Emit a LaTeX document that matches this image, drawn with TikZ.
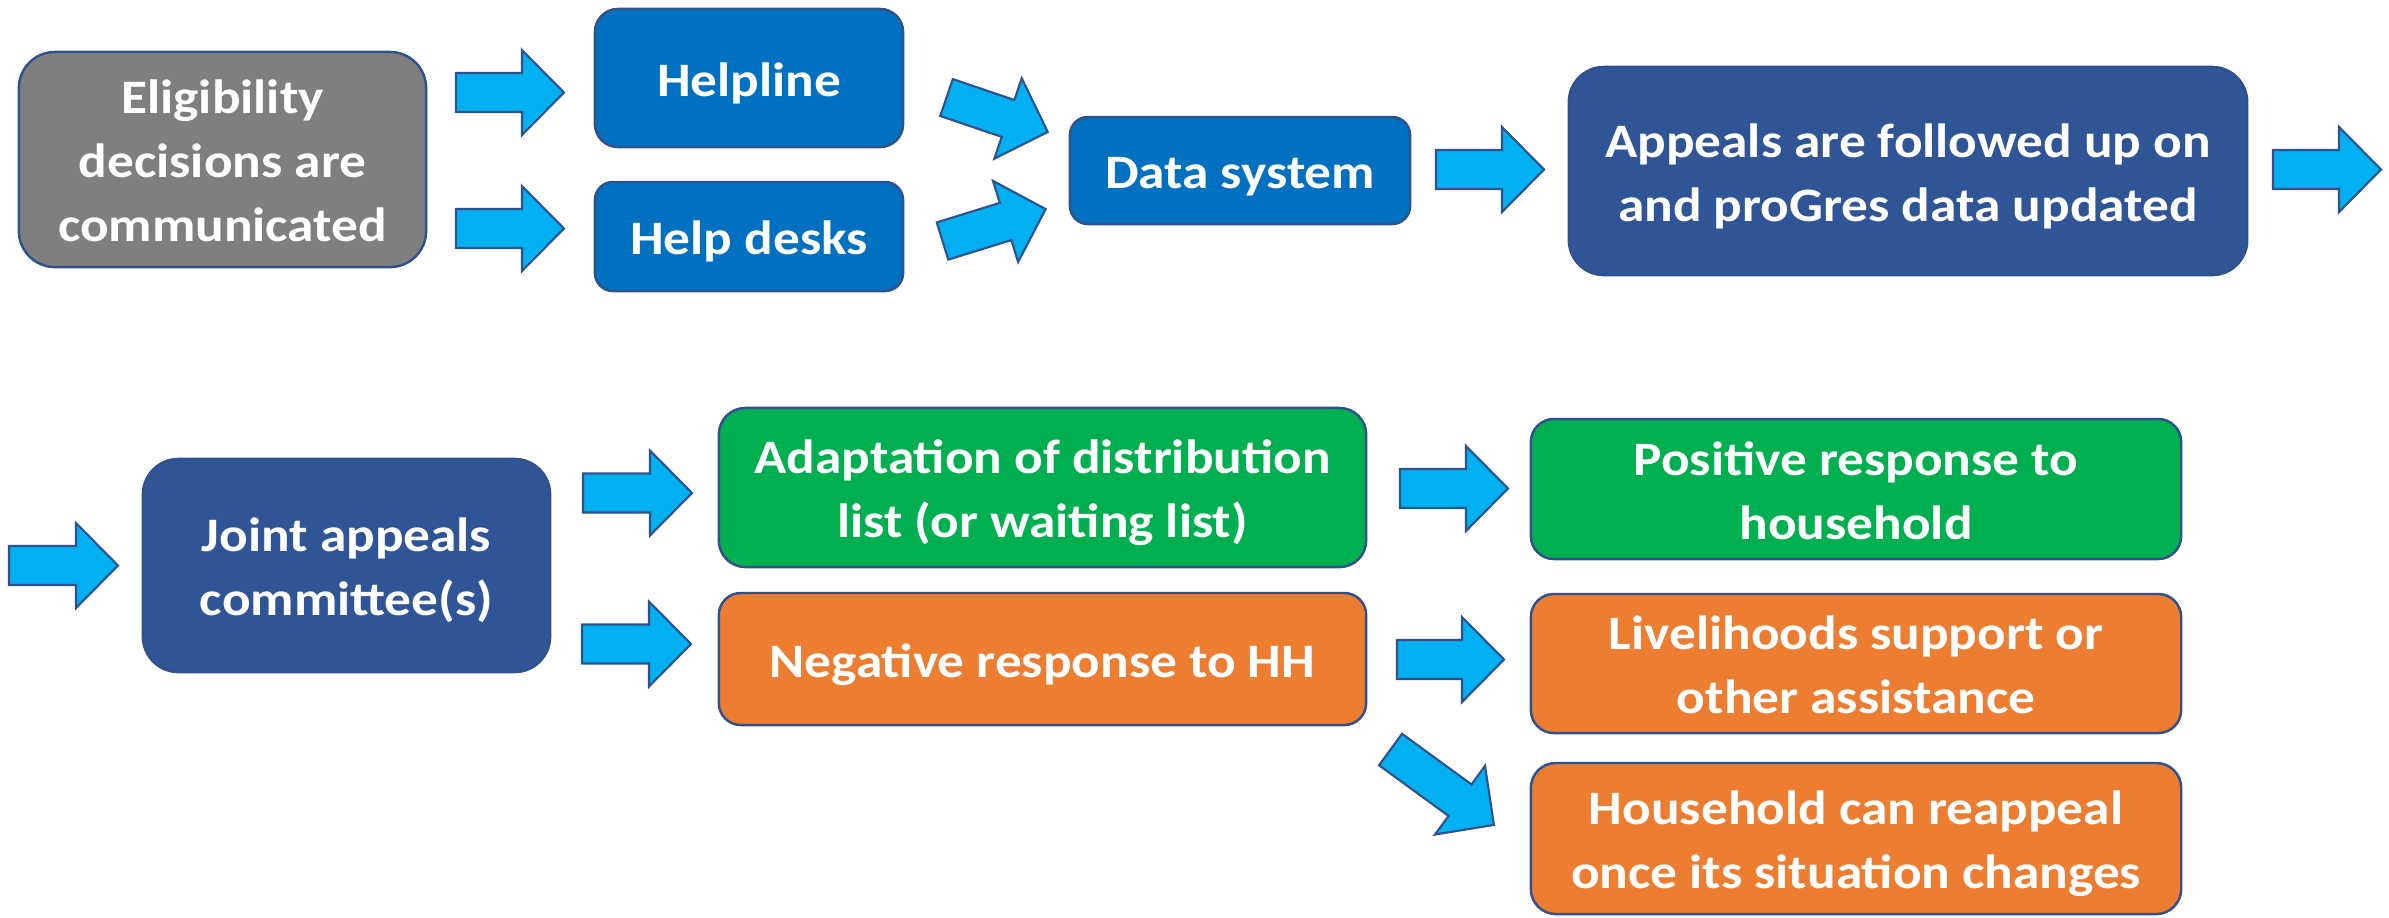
\documentclass[tikz,border=0pt]{standalone}
\usepackage{fontspec}
\setmainfont{Carlito}[FakeStretch=1.11]
\definecolor{cgray}{HTML}{7F7F7F}
\definecolor{cblue}{HTML}{0070C0}
\definecolor{cdark}{HTML}{2F5597}
\definecolor{cgreen}{HTML}{00B050}
\definecolor{corange}{HTML}{ED7D31}
\definecolor{carrow}{HTML}{00B0F0}
\definecolor{cedge}{HTML}{2F528F}
\newcommand\ls{\rule[-0.23em]{0pt}{1.21em}}
\begin{document}
\begin{tikzpicture}[x=0.01cm,y=-0.01cm,
  box/.style={draw=cedge, line width=0.7pt, text=white, align=center, inner sep=0pt,
    font=\fontsize{13.66pt}{18.21pt}\selectfont\bfseries},
  pics/barrow/.style={code={
    \filldraw[fill=carrow, draw=cedge, line width=0.6pt, line join=miter]
      (0,-19.5) -- (#1-42,-19.5) -- (#1-42,-42.5) -- (#1,0) -- (#1-42,42.5)
      -- (#1-42,19.5) -- (0,19.5) -- cycle;
  }}]
\useasboundingbox (0,0) rectangle (2389,917);
% top row
\node[box, fill=cgray, minimum width=4.07cm, minimum height=2.15cm, rounded corners=0.36cm]
  (elig) at (222.5,159.5) {\ls Eligibility\\\ls decisions are\\\ls communicated};
\node[box, fill=cblue, minimum width=3.08cm, minimum height=1.38cm, rounded corners=0.23cm]
  (helpline) at (749,78) {\ls Helpline};
\node[box, fill=cblue, minimum width=3.08cm, minimum height=1.09cm, rounded corners=0.18cm]
  (helpdesks) at (749,236.5) {\ls Help desks};
\node[box, fill=cblue, minimum width=3.40cm, minimum height=1.07cm, rounded corners=0.18cm]
  (data) at (1240,170.5) {\ls Data system};
\node[box, fill=cdark, minimum width=6.78cm, minimum height=2.08cm, rounded corners=0.35cm]
  (appeals) at (1908,171) {\ls Appeals are followed up on\\\ls and proGres data updated};
% bottom row
\node[box, fill=cdark, minimum width=4.07cm, minimum height=2.13cm, rounded corners=0.355cm]
  (joint) at (346.5,565.5) {\ls Joint appeals\\\ls committee(s)};
\node[box, fill=cgreen, minimum width=6.47cm, minimum height=1.59cm, rounded corners=0.265cm]
  (adapt) at (1042.5,487.5) {\ls Adaptation of distribution\\\ls list (or waiting list)};
\node[box, fill=corange, minimum width=6.47cm, minimum height=1.32cm, rounded corners=0.22cm]
  (neg) at (1042.5,659) {\ls Negative response to HH};
\node[box, fill=cgreen, minimum width=6.50cm, minimum height=1.40cm, rounded corners=0.23cm]
  (pos) at (1856,489) {\ls Positive response to\\\ls household};
\node[box, fill=corange, minimum width=6.50cm, minimum height=1.39cm, rounded corners=0.23cm]
  (live) at (1856,663.5) {\ls Livelihoods support or\\\ls other assistance};
\node[box, fill=corange, minimum width=6.50cm, minimum height=1.51cm, rounded corners=0.25cm]
  (house) at (1856,838.5) {\ls Household can reappeal\\\ls once its situation changes};
% block arrows
\pic (a1) at (456,92.5) {barrow=108};
\pic (a2) at (456,228.5) {barrow=108};
\pic[rotate=-18.8] (a3) at (946.5,97.5) {barrow=107};
\pic[rotate=17.2] (a4) at (942.5,241) {barrow=108};
\pic (a5) at (1436,169.5) {barrow=108};
\pic (a6) at (2273,169.5) {barrow=108};
\pic (a7) at (9,565.5) {barrow=109};
\pic (a8) at (583,493) {barrow=109};
\pic (a9) at (582,644) {barrow=109};
\pic (a10) at (1400,488.5) {barrow=108};
\pic (a11) at (1397,659.5) {barrow=107};
\pic[rotate=-36.1] (a12) at (1390.5,749.5) {barrow=128};
\end{tikzpicture}
\end{document}
